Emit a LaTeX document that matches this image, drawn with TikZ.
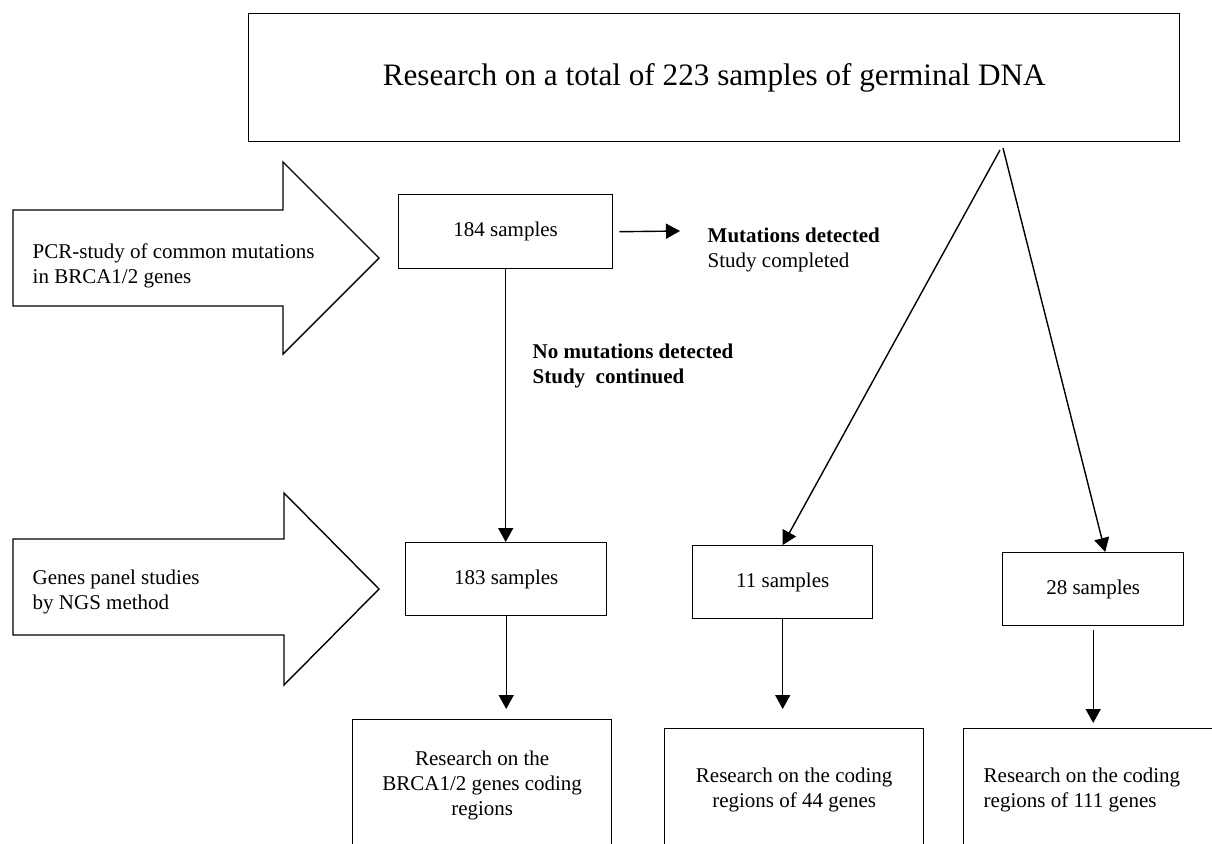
\documentclass[tikz,border=0pt]{standalone}
\usepackage{fontspec}
\setmainfont{Liberation Serif}
\usetikzlibrary{arrows.meta}
\newcommand\smallfs{\fontsize{10.5}{12.5}\selectfont}
\newcommand\titlefs{\fontsize{15.6}{18.7}\selectfont}
\begin{document}
\begin{tikzpicture}[x=0.5pt,y=-0.5pt,line width=0.7pt,
  box/.style={draw,rectangle,inner sep=0pt,anchor=north west,align=center,font=\smallfs},
  lbl/.style={inner sep=0pt,anchor=base west,font=\smallfs},
  arr/.style={-{Triangle[length=7pt,width=7.5pt]}},
  bigarrow/.style={draw,line join=miter}]
\useasboundingbox (0,0) rectangle (1212,843);
\clip (0,0) rectangle (1212,843);
\fill[white] (0,0) rectangle (1212,843);

% top box
\node[box,minimum width=465.5pt,minimum height=64pt,font=\titlefs] (top) at (248,13)
  {Research on a total of 223 samples of germinal DNA};

% block arrows
\draw[bigarrow] (13,210) -- (283,210) -- (283,162) -- (379,258) -- (283,354) -- (283,306) -- (13,306) -- cycle;
\node[lbl] (pcr) at (32,258) {\begin{tabular}[t]{@{}l@{}}PCR-study of common mutations\\ in BRCA1/2 genes\end{tabular}};
\draw[bigarrow] (13,539) -- (284,539) -- (284,493) -- (379,589) -- (284,685) -- (284,635) -- (13,635) -- cycle;
\node[lbl] (ngs) at (32,584) {\begin{tabular}[t]{@{}l@{}}Genes panel studies\\ by NGS method\end{tabular}};

% sample boxes
\node[box,minimum width=107pt,minimum height=37pt] (b184) at (398,194) {184 samples};
\node[box,minimum width=100.5pt,minimum height=36.5pt] (b183) at (405,542) {183 samples};
\node[box,minimum width=90pt,minimum height=36.5pt] (b11) at (692,545) {11 samples};
\node[box,minimum width=90.5pt,minimum height=36.5pt] (b28) at (1002,552) {28 samples};

% result boxes
\node[box,minimum width=129.5pt,minimum height=66pt] (bl) at (352,719)
  {Research on the\\ BRCA1/2 genes coding\\ regions};
\node[box,minimum width=129.5pt,minimum height=61pt] (bm) at (664,728)
  {Research on the coding\\ regions of 44 genes};
\node[box,minimum width=140pt,minimum height=61pt,inner xsep=10pt,text width=120pt,align=flush left] (br) at (963,728)
  {Research on the coding\\ regions of 111 genes};

% labels
\node[lbl] (mut) at (707,242) {\begin{tabular}[t]{@{}l@{}}\textbf{Mutations detected}\\ Study completed\end{tabular}};
\node[lbl] (nomut) at (532,358) {\begin{tabular}[t]{@{}l@{}}\textbf{No mutations detected}\\ \textbf{Study\ \ continued}\end{tabular}};

% connectors
\coordinate (mutend) at (680,231);
\coordinate (apexL) at (1000,150);
\coordinate (apexR) at (1003,148);
\draw[arr] ([xshift=3pt]b184.east) -- (mutend);
\draw[arr] (b184.south) -- (b184.south |- b183.north);
\draw[arr] (apexL) -- (b11.north);
\draw[arr] (apexR) -- ([xshift=6pt]b28.north);
\draw[arr,shorten >=5pt] (b183.south) -- (b183.south |- bl.north);
\draw[arr,shorten >=9.5pt] (b11.south) -- (b11.south |- bm.north);
\draw[arr,shorten <=2pt,shorten >=2.5pt] (b28.south) -- (b28.south |- br.north);
\end{tikzpicture}
\end{document}
